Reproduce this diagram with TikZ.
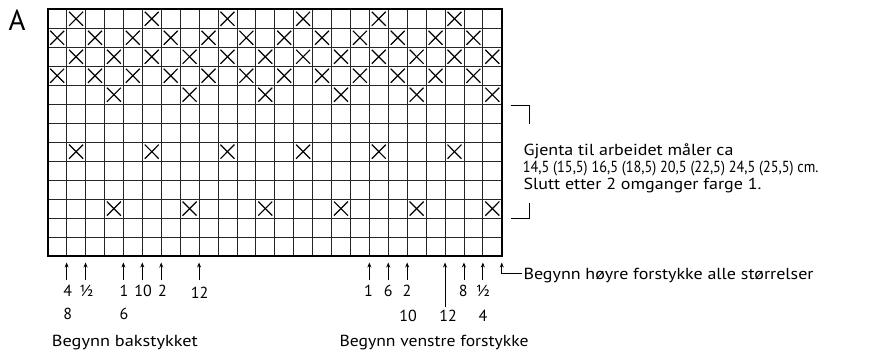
\documentclass[tikz,border=0pt]{standalone}
\usepackage{graphicx}
\usepackage{fontspec}
\setmainfont{PT Sans}
\usetikzlibrary{arrows.meta}
\newcommand\fitw[2]{\resizebox{#1}{\height}{#2}}
\begin{document}
\begin{tikzpicture}[x=1pt,y=-1pt,
  gridline/.style={line width=0.8pt,black!85},
  border/.style={line width=1.8pt,black},
  xmark/.style={line width=1.2pt,black},
  arr/.style={line width=0.8pt,-{Stealth[length=5pt,width=4pt]}},
  lbl/.style={inner sep=0pt,anchor=base,font=\fontsize{16}{18}\selectfont},
  txt/.style={inner sep=0pt,anchor=base west,font=\fontsize{16}{18}\selectfont}]
\useasboundingbox (0,0) rectangle (889,361);
\node[inner sep=0pt,anchor=base,font=\fontsize{29}{30}\selectfont] (A) at (17.2,30.7) {A};
% grid
\begin{scope}[shift={(47.7,9.3)},x=18.92pt,y=-18.98pt]
  \foreach \k in {1,...,23} \draw[gridline] (\k,0) -- (\k,13);
  \foreach \r in {1,...,12} \draw[gridline] (0,\r) -- (24,\r);
  \foreach \r/\cols in {0/{1,5,9,13,17,21},1/{0,2,4,6,8,10,12,14,16,18,20,22},2/{1,3,5,7,9,11,13,15,17,19,21,23},3/{0,2,4,6,8,10,12,14,16,18,20,22},4/{3,7,11,15,19,23},7/{1,5,9,13,17,21},10/{3,7,11,15,19,23}}
    \foreach \c in \cols {
      \draw[xmark] (\c+0.13,\r+0.13) -- (\c+0.87,\r+0.87);
      \draw[xmark] (\c+0.13,\r+0.87) -- (\c+0.87,\r+0.13);
    }
  \draw[border] (0,0) rectangle (24,13);
  \foreach \k in {1,2,4,5,6,8,17,18,19,21,22,23,24}
    \coordinate (t\k) at (\k,13.34);
\end{scope}
% bottom arrows
\foreach \k in {1,2,4,5,6,8,17,18,19,22,23}
  \draw[arr] (t\k |- 0,280) -- (t\k);
% left group labels
\node[lbl] (l4) at (67.7,296.7) {4};
\node[lbl] (lhalf) at (86.5,296.7) {½};
\node[lbl] (l1) at (124,296.7) {1};
\node[lbl] (l10) at (143,296.7) {10};
\node[lbl] (l2) at (162.5,296.7) {2};
\node[lbl] (l12) at (199.5,298.5) {12};
\node[lbl] (l8) at (67.7,319) {8};
\node[lbl] (l6) at (124,319) {6};
\node[txt] (bak) at (51.7,346.7) {\fitw{146pt}{Begynn bakstykket}};
% right group labels
\node[lbl] (r1) at (368.5,296.7) {1};
\node[lbl] (r6) at (388.3,296.7) {6};
\node[lbl] (r2) at (407,296.7) {2};
\node[lbl] (r8) at (463.3,296.7) {8};
\node[lbl] (rhalf) at (483,296.7) {½};
\node[lbl] (r10) at (408,321) {10};
\node[lbl] (r12) at (448,321) {12};
\node[lbl] (r4) at (483,321) {4};
\draw[arr] (t21 |- r12.north) ++(0,-2.5) -- (t21);
\node[txt] (ven) at (339.3,346.7) {\fitw{189pt}{Begynn venstre forstykke}};
% right-corner arrow
\node[txt] (hoy) at (523.3,279) {\fitw{290pt}{Begynn høyre forstykke alle størrelser}};
\coordinate (hoyw) at (521.7,273);
\draw[arr,{Stealth[length=5pt,width=4pt]}-] (t24) -- (t24 |- hoyw) -- (hoyw);
% bracket
\coordinate (bt1) at (510.7,105);
\coordinate (bt2) at (529.3,105);
\coordinate (bt3) at (529.3,124);
\coordinate (bb1) at (510.7,218.5);
\coordinate (bb2) at (529.3,218.5);
\coordinate (bb3) at (529.3,203);
\draw[line width=0.8pt] (bt1) -- (bt2) -- (bt3);
\draw[line width=0.8pt] (bb1) -- (bb2) -- (bb3);
\node[txt] (rep1) at (523.3,155.5) {\fitw{210pt}{Gjenta til arbeidet måler ca}};
\node[txt] (rep2) at (522.7,172) {\fitw{295.6pt}{14,5 (15,5) 16,5 (18,5) 20,5 (22,5) 24,5 (25,5) cm.}};
\node[txt] (rep3) at (523.3,189) {\fitw{238pt}{Slutt etter 2 omganger farge 1.}};
\end{tikzpicture}
\end{document}
